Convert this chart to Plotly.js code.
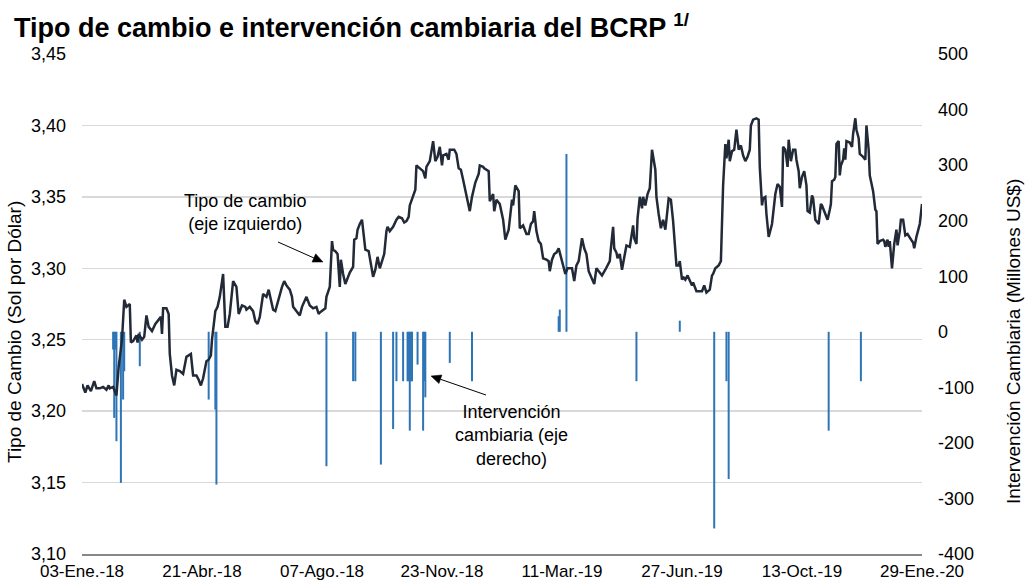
<!DOCTYPE html>
<html>
<head>
<meta charset="utf-8">
<script src="https://cdn.plot.ly/plotly-3.0.1.min.js"></script>
<style>html,body{margin:0;padding:0;background:#fff;}#chart{width:1027px;height:583px;}</style>
</head>
<body>
<div id="chart"></div>
<script>
// Tipo de cambio (S/ por US$)
var fxDates = [
'2018-01-03','2018-01-06','2018-01-08','2018-01-11','2018-01-14','2018-01-16','2018-01-19','2018-01-22','2018-01-25','2018-01-27','2018-01-28','2018-01-31',
'2018-02-03','2018-02-05','2018-02-08','2018-02-10','2018-02-12','2018-02-15','2018-02-16','2018-02-18','2018-02-21','2018-02-22','2018-02-23','2018-02-26','2018-02-28',
'2018-03-02','2018-03-04','2018-03-07','2018-03-10','2018-03-13','2018-03-15','2018-03-16','2018-03-17','2018-03-20','2018-03-22','2018-03-23','2018-03-25','2018-03-27','2018-03-29',
'2018-04-01','2018-04-04','2018-04-07','2018-04-09','2018-04-11','2018-04-13','2018-04-16','2018-04-18','2018-04-20','2018-04-22','2018-04-25','2018-04-27','2018-04-29','2018-04-30',
'2018-05-03','2018-05-05','2018-05-07','2018-05-10','2018-05-12','2018-05-14','2018-05-16','2018-05-19','2018-05-22','2018-05-24','2018-05-27','2018-05-30','2018-05-31',
'2018-06-03','2018-06-06','2018-06-08','2018-06-10','2018-06-12','2018-06-15','2018-06-18','2018-06-20','2018-06-22','2018-06-24','2018-06-26','2018-06-29',
'2018-07-02','2018-07-04','2018-07-06','2018-07-09','2018-07-11','2018-07-12','2018-07-15','2018-07-18','2018-07-20','2018-07-22','2018-07-24','2018-07-27','2018-07-30',
'2018-08-02','2018-08-04','2018-08-05','2018-08-08','2018-08-10','2018-08-11','2018-08-14','2018-08-16','2018-08-17','2018-08-19','2018-08-21','2018-08-23','2018-08-24','2018-08-26','2018-08-28','2018-08-30',
'2018-09-01','2018-09-04','2018-09-05','2018-09-07','2018-09-08','2018-09-10','2018-09-12','2018-09-15','2018-09-18','2018-09-20','2018-09-22','2018-09-24','2018-09-26','2018-09-28','2018-09-30',
'2018-10-02','2018-10-04','2018-10-05','2018-10-07','2018-10-10','2018-10-13','2018-10-15','2018-10-18','2018-10-20','2018-10-22','2018-10-24','2018-10-25','2018-10-28','2018-10-30','2018-10-31',
'2018-11-03','2018-11-06','2018-11-08','2018-11-09','2018-11-12','2018-11-14','2018-11-15','2018-11-17','2018-11-19','2018-11-21','2018-11-23','2018-11-24','2018-11-27','2018-11-29','2018-11-30',
'2018-12-04','2018-12-06','2018-12-08','2018-12-10','2018-12-12','2018-12-15','2018-12-18','2018-12-20','2018-12-21','2018-12-23','2018-12-26','2018-12-27','2018-12-30','2018-12-31',
'2019-01-04','2019-01-05','2019-01-08','2019-01-09','2019-01-11','2019-01-14','2019-01-17','2019-01-19','2019-01-22','2019-01-25','2019-01-26','2019-01-28','2019-01-31',
'2019-02-01','2019-02-04','2019-02-07','2019-02-09','2019-02-11','2019-02-13','2019-02-14','2019-02-16','2019-02-18','2019-02-20','2019-02-22','2019-02-25','2019-02-27','2019-02-28',
'2019-03-02','2019-03-04','2019-03-06','2019-03-08','2019-03-10','2019-03-12','2019-03-14','2019-03-16','2019-03-20','2019-03-22','2019-03-24','2019-03-26','2019-03-29','2019-03-31',
'2019-04-02','2019-04-04','2019-04-07','2019-04-09','2019-04-11','2019-04-14','2019-04-16','2019-04-19','2019-04-23','2019-04-24','2019-04-26','2019-04-27','2019-04-29','2019-04-30',
'2019-05-02','2019-05-04','2019-05-06','2019-05-08','2019-05-11','2019-05-13','2019-05-14','2019-05-15','2019-05-17','2019-05-18','2019-05-20','2019-05-22','2019-05-23','2019-05-25','2019-05-27','2019-05-29','2019-05-31',
'2019-06-03','2019-06-04','2019-06-06','2019-06-08','2019-06-10','2019-06-12','2019-06-13','2019-06-15','2019-06-17','2019-06-19','2019-06-22','2019-06-24','2019-06-25','2019-06-27','2019-06-28','2019-06-30',
'2019-07-02','2019-07-04','2019-07-06','2019-07-07','2019-07-09','2019-07-10','2019-07-13','2019-07-15','2019-07-17','2019-07-19','2019-07-22','2019-07-24','2019-07-25','2019-07-27','2019-07-30',
'2019-08-01','2019-08-03','2019-08-05','2019-08-06','2019-08-08','2019-08-09','2019-08-11','2019-08-13','2019-08-15','2019-08-17','2019-08-19','2019-08-21','2019-08-23','2019-08-25','2019-08-27','2019-08-28','2019-08-30',
'2019-09-02','2019-09-04','2019-09-05','2019-09-07','2019-09-08','2019-09-10','2019-09-11','2019-09-13','2019-09-16','2019-09-17','2019-09-19','2019-09-21','2019-09-23','2019-09-25','2019-09-26','2019-09-28','2019-09-30',
'2019-10-01','2019-10-03','2019-10-05','2019-10-07','2019-10-08','2019-10-10','2019-10-11','2019-10-13','2019-10-15','2019-10-17','2019-10-18','2019-10-20','2019-10-22','2019-10-23','2019-10-25','2019-10-26','2019-10-28','2019-10-30','2019-10-31',
'2019-11-03','2019-11-05','2019-11-07','2019-11-08','2019-11-09','2019-11-11','2019-11-12','2019-11-13','2019-11-15','2019-11-16','2019-11-17','2019-11-19','2019-11-20','2019-11-21','2019-11-22','2019-11-25','2019-11-27','2019-11-28','2019-11-30',
'2019-12-01','2019-12-03','2019-12-04','2019-12-07','2019-12-09','2019-12-10','2019-12-12','2019-12-13','2019-12-15','2019-12-16','2019-12-18','2019-12-19','2019-12-20','2019-12-22','2019-12-25','2019-12-26','2019-12-27','2019-12-29','2019-12-30','2019-12-31',
'2020-01-02','2020-01-04','2020-01-06','2020-01-07','2020-01-09','2020-01-10','2020-01-12','2020-01-14','2020-01-16','2020-01-18','2020-01-20','2020-01-21','2020-01-22','2020-01-24','2020-01-26','2020-01-27','2020-01-29'
];
var fxValues = [
3.219,3.213,3.218,3.214,3.221,3.216,3.216,3.217,3.215,3.218,3.216,3.217,
3.211,3.231,3.250,3.278,3.273,3.275,3.248,3.249,3.253,3.248,3.254,3.250,3.252,
3.267,3.259,3.256,3.261,3.264,3.266,3.254,3.272,3.272,3.268,3.240,3.225,3.218,3.229,
3.228,3.226,3.238,3.239,3.240,3.225,3.225,3.222,3.218,3.223,3.235,3.236,3.239,3.250,
3.270,3.273,3.280,3.296,3.259,3.259,3.268,3.291,3.287,3.268,3.274,3.273,3.271,
3.273,3.270,3.263,3.261,3.266,3.282,3.280,3.285,3.278,3.271,3.270,3.279,
3.287,3.291,3.288,3.285,3.280,3.273,3.270,3.267,3.273,3.277,3.280,3.274,3.272,
3.273,3.268,3.269,3.271,3.272,3.280,3.287,3.319,3.313,3.312,3.310,3.287,3.306,3.296,3.289,3.293,
3.297,3.301,3.320,3.321,3.327,3.331,3.334,3.313,3.312,3.303,3.294,3.299,3.308,3.300,3.306,
3.310,3.326,3.329,3.326,3.329,3.334,3.336,3.335,3.332,3.333,3.336,3.344,3.350,3.355,3.372,
3.370,3.368,3.363,3.371,3.375,3.383,3.389,3.375,3.378,3.385,3.372,3.379,3.380,3.376,3.383,
3.383,3.380,3.370,3.369,3.362,3.350,3.340,3.350,3.353,3.360,3.366,3.372,3.371,3.370,
3.368,3.347,3.352,3.340,3.348,3.345,3.334,3.320,3.327,3.348,3.344,3.358,3.354,
3.328,3.330,3.324,3.324,3.331,3.333,3.340,3.326,3.319,3.317,3.307,3.306,3.305,3.298,
3.306,3.310,3.311,3.314,3.308,3.302,3.296,3.300,3.300,3.291,3.302,3.305,3.321,3.314,
3.310,3.298,3.293,3.289,3.300,3.297,3.295,3.299,3.305,3.314,3.329,3.314,3.311,3.307,
3.310,3.299,3.308,3.316,3.315,3.324,3.330,3.321,3.317,3.335,3.350,3.342,3.350,3.344,3.352,3.356,3.383,
3.369,3.350,3.338,3.328,3.334,3.327,3.334,3.349,3.348,3.333,3.302,3.302,3.305,3.292,3.294,3.292,
3.295,3.292,3.288,3.290,3.286,3.284,3.284,3.284,3.288,3.283,3.285,3.295,3.296,3.300,3.302,
3.305,3.358,3.387,3.377,3.390,3.375,3.382,3.383,3.397,3.383,3.386,3.379,3.375,3.378,3.383,3.400,3.404,
3.405,3.404,3.371,3.344,3.349,3.350,3.338,3.322,3.331,3.337,3.352,3.359,3.357,3.343,3.385,3.383,3.371,
3.390,3.375,3.383,3.383,3.376,3.368,3.356,3.364,3.368,3.358,3.340,3.339,3.351,3.349,3.334,3.333,3.331,3.345,3.344,
3.338,3.334,3.341,3.345,3.361,3.362,3.364,3.387,3.389,3.365,3.372,3.376,3.384,3.376,3.389,3.388,3.385,3.394,3.405,
3.397,3.391,3.380,3.378,3.376,3.400,3.383,3.365,3.359,3.354,3.341,3.340,3.317,3.319,3.320,3.319,3.315,3.320,3.315,3.319,
3.300,3.317,3.327,3.316,3.326,3.334,3.334,3.323,3.324,3.321,3.319,3.318,3.314,3.322,3.327,3.331,3.345
];

// Intervención cambiaria (millones de US$)
var intDates = [
'2018-01-31','2018-02-01','2018-02-02','2018-02-03','2018-02-07','2018-02-09','2018-02-10','2018-02-24',
'2018-04-27','2018-05-03','2018-05-04','2018-08-11',
'2018-09-04','2018-09-06','2018-09-29','2018-10-10','2018-10-13','2018-10-19',
'2018-10-23','2018-10-24','2018-10-25','2018-10-26','2018-10-27',
'2018-11-01','2018-11-06','2018-11-07','2018-11-08','2018-11-30','2018-12-20',
'2019-03-08','2019-03-09','2019-03-15','2019-05-17','2019-06-25','2019-07-26',
'2019-08-06','2019-08-08','2019-11-06','2019-12-05'
];
var intValues = [
-32,-155,-32,-197,-272,-122,-71,-62,
-122,-140,-275,-242,
-89,-89,-239,-175,-89,-89,
-89,-89,-178,-89,-89,
-59,-178,-89,-118,-56,-89,
28,40,320,-89,20,-354,
-89,-265,-178,-89
];

var xTickDates = ['2018-01-03','2018-04-21','2018-08-07','2018-11-23','2019-03-11','2019-06-27','2019-10-13','2020-01-29'];
var xTickLabels = ['03-Ene.-18','21-Abr.-18','07-Ago.-18','23-Nov.-18','11-Mar.-19','27-Jun.-19','13-Oct.-19','29-Ene.-20'];
var leftTickVals = [3.10,3.15,3.20,3.25,3.30,3.35,3.40,3.45];
var leftTickLabels = ['3,10','3,15','3,20','3,25','3,30','3,35','3,40','3,45'];
var rightTickVals = [-400,-300,-200,-100,0,100,200,300,400,500];
var rightTickLabels = ['-400','-300','-200','-100','0','100','200','300','400','500'];

var FONT = 'Liberation Sans, Arial, Helvetica, sans-serif';
var DAY = 86400000;

var traces = [
  {
    type: 'bar', x: intDates, y: intValues, xaxis: 'x', yaxis: 'y',
    width: 1.8 * DAY, marker: {color: '#2e75b6', line: {width: 0}},
    hoverinfo: 'x+y', showlegend: false
  },
  {
    type: 'scatter', mode: 'lines', x: fxDates, y: fxValues, xaxis: 'x', yaxis: 'y2',
    line: {color: '#222a38', width: 2.5}, showlegend: false
  }
];

var W = 1027, H = 583, L = 82, R = 105, T = 54, B = 29;
function px(x) { return (x - L) / (W - L - R); }
function py(y) { return (H - B - y) / (H - T - B); }

// callout arrows (pixel positions of tail and head), drawn as a line plus a filled head
function arrowShapes(tx, ty, hx, hy) {
  var dx = hx - tx, dy = hy - ty, len = Math.sqrt(dx * dx + dy * dy);
  var ux = dx / len, uy = dy / len, hl = 10, hw = 4.5;
  var bx = hx - hl * ux, by = hy - hl * uy;
  var c1x = bx - hw * uy, c1y = by + hw * ux, c2x = bx + hw * uy, c2y = by - hw * ux;
  return [
    {type: 'line', xref: 'paper', yref: 'paper', x0: px(tx), y0: py(ty), x1: px(bx), y1: py(by),
     line: {color: '#000', width: 1}},
    {type: 'path', xref: 'paper', yref: 'paper',
     path: 'M' + px(hx) + ',' + py(hy) + ' L' + px(c1x) + ',' + py(c1y) + ' L' + px(c2x) + ',' + py(c2y) + ' Z',
     fillcolor: '#000', line: {color: '#000', width: 0.5}}
  ];
}

var layout = {
  width: W, height: H,
  margin: {l: L, r: R, t: T, b: B, pad: 0},
  paper_bgcolor: '#ffffff', plot_bgcolor: '#ffffff',
  font: {family: FONT, size: 18, color: '#000000'},
  showlegend: false,
  title: {
    text: '<b>Tipo de cambio e intervención cambiaria del BCRP <sup>1/</sup></b>',
    font: {family: FONT, size: 27, color: '#000000'},
    x: 14 / W, xref: 'container', xanchor: 'left',
    y: 1 - 28 / H, yref: 'container', yanchor: 'middle'
  },
  xaxis: {
    type: 'date', range: ['2018-01-03', '2020-01-29'],
    tickmode: 'array', tickvals: xTickDates, ticktext: xTickLabels,
    showgrid: false, zeroline: false,
    showline: true, linecolor: '#878787', linewidth: 2,
    ticks: '', ticklabelstandoff: 1,
    tickfont: {family: FONT, size: 17, color: '#000'}
  },
  yaxis: {
    range: [-400, 500], side: 'right',
    tickmode: 'array', tickvals: rightTickVals, ticktext: rightTickLabels,
    showgrid: false, zeroline: false, showline: false, ticks: '',
    ticklabelstandoff: 15,
    tickfont: {family: FONT, size: 18, color: '#000'}
  },
  yaxis2: {
    range: [3.10, 3.45], overlaying: 'y', side: 'left',
    tickmode: 'array', tickvals: leftTickVals, ticktext: leftTickLabels,
    showgrid: true, gridcolor: '#d9d9d9', gridwidth: 1.5,
    zeroline: false, showline: false, ticks: '',
    ticklabelstandoff: 15,
    tickfont: {family: FONT, size: 18, color: '#000'}
  },
  shapes: [].concat(arrowShapes(278, 242, 323, 262), arrowShapes(486, 395, 431, 376)),
  annotations: [
    {xref: 'paper', yref: 'paper', x: px(14), y: py(332), text: 'Tipo de Cambio (Sol por Dólar)',
     textangle: -90, showarrow: false, xanchor: 'center', yanchor: 'middle',
     font: {family: FONT, size: 19, color: '#000'}},
    {xref: 'paper', yref: 'paper', x: px(1013), y: py(342), text: 'Intervención Cambiaria (Millones US$)',
     textangle: -90, showarrow: false, xanchor: 'center', yanchor: 'middle',
     font: {family: FONT, size: 19, color: '#000'}},
    {xref: 'paper', yref: 'paper', x: px(245), y: py(213), text: 'Tipo de cambio<br>(eje izquierdo)',
     showarrow: false, xanchor: 'center', yanchor: 'middle', align: 'center',
     font: {family: FONT, size: 18, color: '#000'}},
    {xref: 'paper', yref: 'paper', x: px(512), y: py(435), text: 'Intervención<br>cambiaria (eje<br>derecho)',
     showarrow: false, xanchor: 'center', yanchor: 'middle', align: 'center',
     font: {family: FONT, size: 18, color: '#000'}}
  ]
};

Plotly.newPlot('chart', traces, layout, {displayModeBar: false, staticPlot: true});
</script>
</body>
</html>
